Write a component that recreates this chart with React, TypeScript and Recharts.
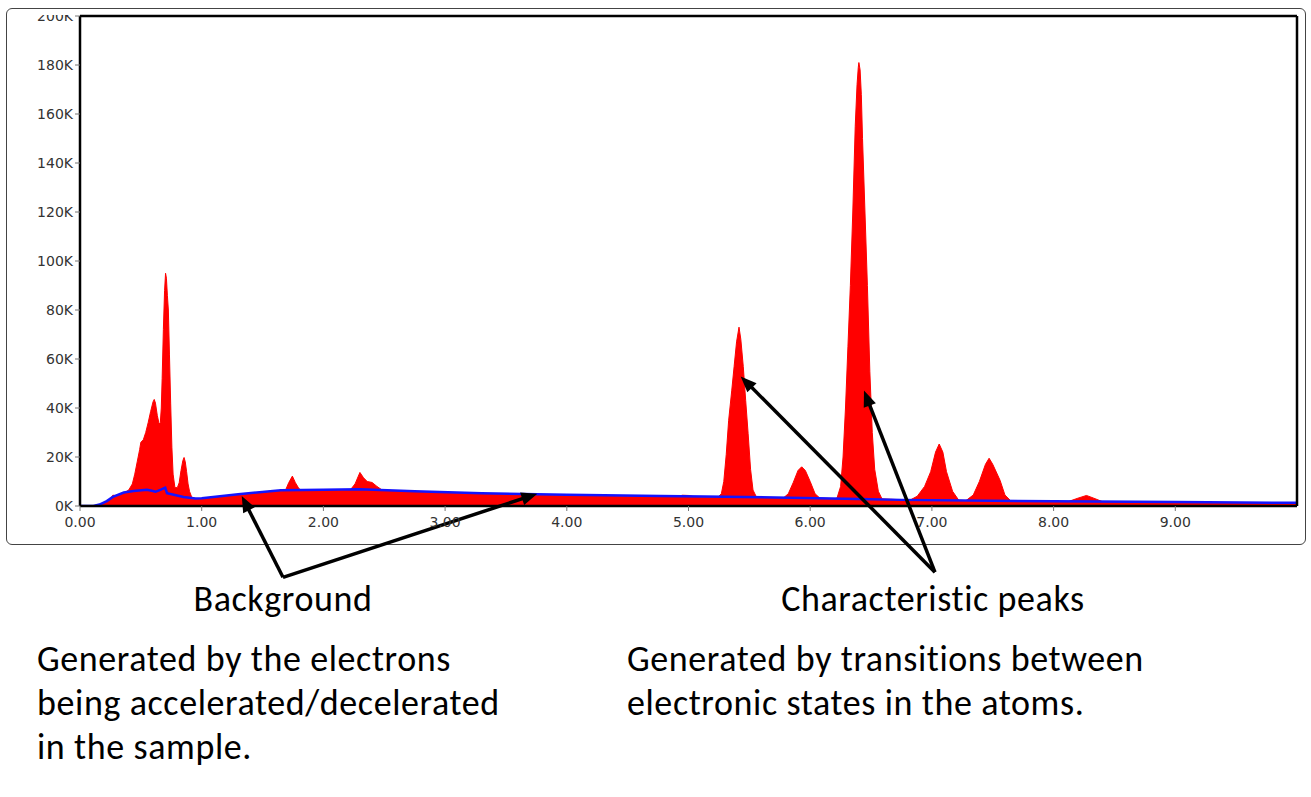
import React from 'react';
import { ComposedChart, Area, Line, XAxis, YAxis, ReferenceLine } from 'recharts';

// Total spectrum (red): energy in keV, counts in thousands
const spectrumKeV = [
  0.0, 0.1, 0.16, 0.22, 0.25, 0.27, 0.29, 0.33, 0.36, 0.4, 0.43, 0.45, 0.47, 0.49, 0.5, 0.52, 0.54, 0.56, 0.58, 0.6,
  0.61, 0.62, 0.635, 0.65, 0.66, 0.668, 0.675, 0.685, 0.695, 0.703, 0.71, 0.718, 0.726, 0.735, 0.745, 0.755, 0.765, 0.78, 0.8, 0.815,
  0.83, 0.845, 0.855, 0.865, 0.876, 0.888, 0.9, 0.915, 0.93, 0.96, 1.0, 1.15, 1.3, 1.5, 1.66, 1.69, 1.715, 1.745, 1.77, 1.8,
  1.84, 2.0, 2.22, 2.26, 2.3, 2.33, 2.36, 2.4, 2.44, 2.48, 2.6, 2.75, 3.0, 3.3, 3.7, 4.0, 4.5, 4.9, 4.95, 5.0,
  5.05, 5.24, 5.27, 5.29, 5.31, 5.33, 5.355, 5.375, 5.395, 5.415, 5.43, 5.45, 5.47, 5.49, 5.51, 5.53, 5.56, 5.78, 5.82, 5.86,
  5.9, 5.93, 5.96, 6.0, 6.04, 6.08, 6.2, 6.22, 6.25, 6.27, 6.29, 6.31, 6.33, 6.35, 6.37, 6.385, 6.395, 6.4, 6.41, 6.42,
  6.43, 6.45, 6.47, 6.49, 6.51, 6.53, 6.56, 6.59, 6.82, 6.88, 6.94, 6.99, 7.03, 7.06, 7.09, 7.12, 7.17, 7.22, 7.28, 7.34,
  7.39, 7.44, 7.47, 7.5, 7.56, 7.6, 7.65, 8.12, 8.2, 8.27, 8.33, 8.4, 9.0, 10.0,
];
const spectrumCountsK = [
  0, 0, 0.5, 1.8, 3.0, 4.4, 4.3, 4.8, 5.3, 6.5, 9, 13, 18, 23, 26, 27, 30, 34, 38.5, 42.5,
  43.5, 42, 37, 33.5, 34, 40, 52, 72, 88, 95, 93, 86, 80, 62, 42, 24, 13, 7.5, 7.5, 9.5,
  14.5, 18.5, 19.8, 18, 14, 9, 6, 4, 3.2, 2.9, 3.0, 3.8, 4.6, 5.5, 6.0, 6.6, 9.5, 12.2, 9.5, 7,
  6.1, 6.3, 6.5, 9, 13.7, 11.5, 10, 9.6, 8, 6.6, 6.2, 5.8, 5.4, 5.0, 4.6, 4.4, 4.0, 3.8, 4.4, 4.3,
  3.7, 3.5, 5, 10, 21, 35, 47, 57, 67, 73, 68, 57, 43, 29.5, 15, 6.5, 3.5, 3.3, 5, 9.5,
  14.5, 16, 14.5, 10, 5, 3.2, 3.0, 3.2, 8, 20, 40, 65, 90, 120, 155, 172, 179, 181, 178, 168,
  150, 120, 90, 55, 30, 15, 6, 2.9, 2.4, 4, 8, 14, 22, 25.3, 22, 14, 6, 2.4, 2.2, 4.5,
  10, 17, 19.5, 17, 10.5, 4.5, 2.0, 1.8, 3.2, 4.3, 3.2, 1.8, 1.5, 1.1,
];

// Fitted background (blue line)
const backgroundKeV = [
  0.0, 0.11, 0.16, 0.22, 0.27, 0.36, 0.44, 0.55, 0.59, 0.62, 0.66, 0.7, 0.715, 0.78, 0.85, 0.95, 1.0, 1.3, 1.65, 2.0,
  2.3, 2.75, 3.3, 4.0, 4.77, 5.3, 6.4, 6.75, 8.0, 9.0, 10.0,
];
const backgroundCountsK = [
  0, 0, 0.6, 2.0, 3.7, 5.5, 6.1, 6.6, 6.2, 5.8, 6.6, 7.5, 5.2, 4.5, 3.7, 3.1, 3.2, 4.8, 6.4, 6.6,
  6.8, 6.0, 5.2, 4.6, 4.1, 3.8, 2.9, 2.5, 1.9, 1.6, 1.3,
];

const xTicks = [0, 1, 2, 3, 4, 5, 6, 7, 8, 9];
const yTicks = [0, 20000, 40000, 60000, 80000, 100000, 120000, 140000, 160000, 180000, 200000];

// Annotation arrows: [from, to] in data units (keV, counts)
const backgroundArrows = [
  [{ x: 1.668, y: -29100 }, { x: 1.329, y: 4100 }],
  [{ x: 1.668, y: -29100 }, { x: 3.758, y: 5000 }],
];
const peakArrows = [
  [{ x: 7.025, y: -27000 }, { x: 5.429, y: 52900 }],
  [{ x: 7.025, y: -27000 }, { x: 6.442, y: 47100 }],
];

const spectrum = spectrumKeV.map((e, i) => ({ e, c: spectrumCountsK[i] * 1000 }));
const background = backgroundKeV.map((e, i) => ({ e, b: backgroundCountsK[i] * 1000 }));

const tickFont = 'DejaVu Sans, Verdana, sans-serif';

const YTick = (props: any) => {
  const { x, y, payload } = props;
  return (
    <g>
      <defs>
        <clipPath id="ytick-top-clip">
          <rect x={0} y={15} width={90} height={600} />
        </clipPath>
      </defs>
      <text
        x={x}
        y={y}
        dy="0.36em"
        textAnchor="end"
        fill="#333"
        fontSize={14}
        fontFamily={tickFont}
        clipPath="url(#ytick-top-clip)"
      >
        {`${Math.round(payload.value / 1000)}K`}
      </text>
    </g>
  );
};

const Arrow = (props: any) => {
  const { x1, y1, x2, y2 } = props;
  const ang = Math.atan2(y2 - y1, x2 - x1);
  const L = 16;
  const W = 6.5;
  const bx = x2 - L * Math.cos(ang);
  const by = y2 - L * Math.sin(ang);
  const px = -Math.sin(ang) * W;
  const py = Math.cos(ang) * W;
  return (
    <g>
      <line x1={x1} y1={y1} x2={bx + Math.cos(ang) * 2} y2={by + Math.sin(ang) * 2} stroke="#000" strokeWidth={3.5} />
      <polygon points={`${x2},${y2} ${bx + px},${by + py} ${bx - px},${by - py}`} fill="#000" />
    </g>
  );
};

const textStyle: React.CSSProperties = {
  position: 'absolute',
  fontFamily: 'Carlito, Lato, sans-serif',
  fontSize: 36,
  letterSpacing: 0.6,
  lineHeight: '44px',
  color: '#000',
  whiteSpace: 'nowrap',
};

export default function App() {
  return (
    <div style={{ position: 'absolute', left: 0, top: 0, width: 1311, height: 797, background: '#fff', overflow: 'hidden' }}>
      <div
        style={{
          position: 'absolute',
          left: 6,
          top: 8,
          width: 1300,
          height: 537,
          boxSizing: 'border-box',
          border: '1.5px solid #444',
          borderRadius: 6,
        }}
      />
      <div style={{ position: 'absolute', left: 0, top: 0 }}>
        <ComposedChart width={1311} height={600} margin={{ top: 16, right: 14, bottom: 64, left: 0 }}>
          <XAxis
            dataKey="e"
            type="number"
            domain={[0, 10]}
            allowDataOverflow
            ticks={xTicks}
            tickFormatter={(v: number) => v.toFixed(2)}
            tick={{ fill: '#333', fontSize: 14, fontFamily: tickFont }}
            axisLine={{ stroke: '#000', strokeWidth: 2.5 }}
            tickLine={{ stroke: '#777' }}
            tickSize={5}
            tickMargin={6}
            height={30}
          />
          <YAxis
            type="number"
            domain={[0, 200000]}
            allowDataOverflow
            ticks={yTicks}
            tick={<YTick />}
            axisLine={{ stroke: '#000', strokeWidth: 2.5 }}
            tickLine={{ stroke: '#777' }}
            tickSize={5}
            tickMargin={2}
            width={80}
          />
          <Area
            data={spectrum}
            dataKey="c"
            type="linear"
            fill="#ff0000"
            fillOpacity={1}
            stroke="#ff0000"
            strokeWidth={1}
            baseValue={0}
            isAnimationActive={false}
          />
          <Line
            data={background}
            dataKey="b"
            type="linear"
            stroke="#1414ff"
            strokeWidth={2.5}
            dot={false}
            isAnimationActive={false}
          />
          <ReferenceLine y={200000} stroke="#000" strokeWidth={2.5} />
          <ReferenceLine x={10} stroke="#000" strokeWidth={2.5} />
          {backgroundArrows.map((seg, i) => (
            <ReferenceLine key={`b${i}`} segment={seg} ifOverflow="visible" shape={<Arrow />} />
          ))}
          {peakArrows.map((seg, i) => (
            <ReferenceLine key={`p${i}`} segment={seg} ifOverflow="visible" shape={<Arrow />} />
          ))}
        </ComposedChart>
      </div>
      <div style={{ ...textStyle, left: 83, top: 577, width: 400, textAlign: 'center' }}>Background</div>
      <div style={{ ...textStyle, left: 733, top: 577, width: 400, textAlign: 'center' }}>Characteristic peaks</div>
      <div style={{ ...textStyle, left: 37, top: 637 }}>
        Generated by the electrons
        <br />
        being accelerated/decelerated
        <br />
        in the sample.
      </div>
      <div style={{ ...textStyle, left: 627, top: 637 }}>
        Generated by transitions between
        <br />
        electronic states in the atoms.
      </div>
    </div>
  );
}
